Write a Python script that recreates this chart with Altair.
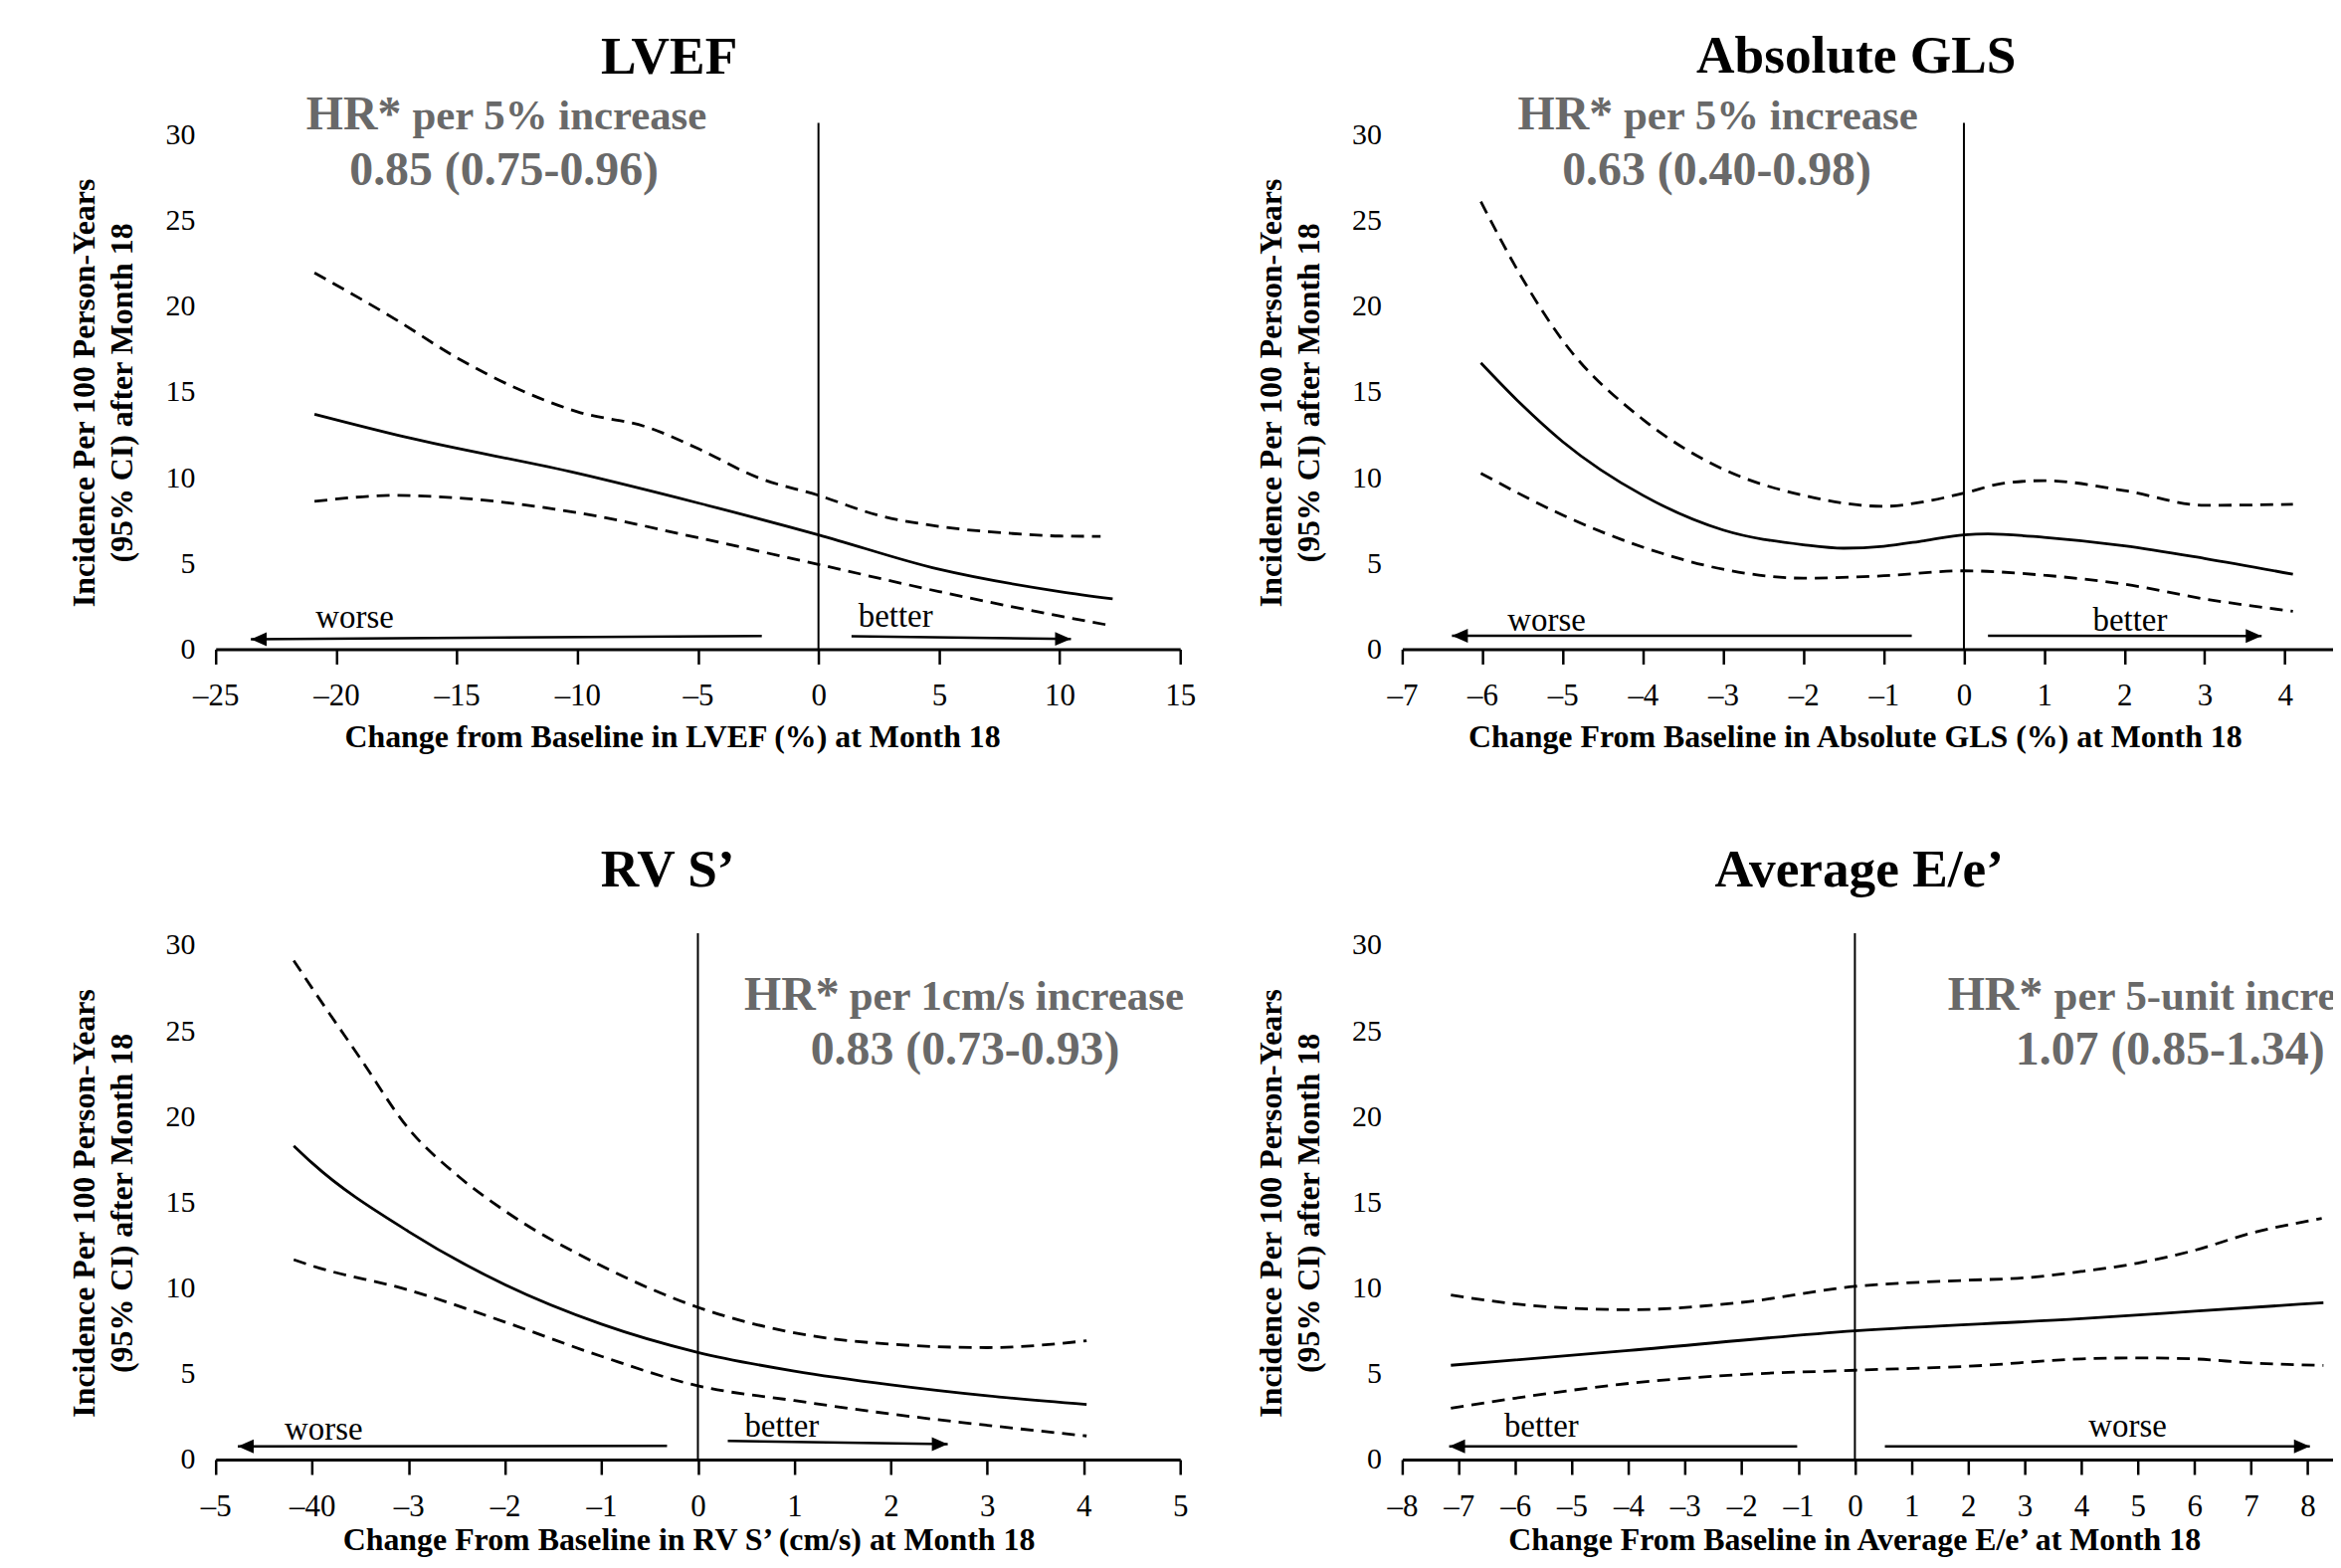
import altair as alt
import pandas as pd

FONT = "Liberation Serif"
GRAY = "#696969"
YMAX = 30.7
Y_TICKS = [0, 5, 10, 15, 20, 25, 30]
Y_TITLE = ["Incidence Per 100 Person-Years", "(95% CI) after Month 18"]

# ---------------- LVEF ----------------
lvef_est_x = [-20.9, -17.1, -10, -5, 0, 5, 10, 12.2]
lvef_est_y = [13.7, 12.36, 10.26, 8.53, 6.67, 4.66, 3.36, 2.93]
lvef_up_x = [-20.9, -17.5, -15, -12.5, -10, -7, -5, -2.5, 0, 2.5, 5, 8, 10, 11.7]
lvef_up_y = [21.95, 19.2, 17.0, 15.2, 13.85, 12.9, 11.7, 10.0, 8.97, 7.8, 7.16, 6.75, 6.6, 6.58]
lvef_lo_x = [-20.9, -17.5, -15, -10, -5, 0, 5, 10, 12.0]
lvef_lo_y = [8.62, 8.97, 8.82, 7.96, 6.5, 4.94, 3.36, 1.93, 1.41]
lvef_ticks = [-25, -20, -15, -10, -5, 0, 5, 10, 15]

# ---------------- Absolute GLS ----------------
gls_est_x = [-6.02, -5.52, -5, -4, -3, -2, -1.5, -1, -0.5, 0, 0.3, 1, 2, 3, 4.1]
gls_est_y = [16.7, 14.3, 12.1, 8.97, 6.95, 6.09, 5.89, 6.0, 6.32, 6.67, 6.72, 6.52, 6.03, 5.29, 4.37]
gls_up_x = [-6.02, -5.5, -5, -4, -3, -2, -1, -0.5, 0, 0.5, 1, 2, 3, 4.1]
gls_up_y = [26.1, 21.6, 18.0, 13.4, 10.5, 8.97, 8.33, 8.6, 9.1, 9.68, 9.83, 9.25, 8.39, 8.45]
gls_lo_x = [-6.02, -5, -4, -3, -2, -1, 0, 1, 2, 3, 4.1]
gls_lo_y = [10.26, 7.82, 5.95, 4.66, 4.14, 4.28, 4.57, 4.31, 3.79, 2.93, 2.21]
gls_ticks = [-7, -6, -5, -4, -3, -2, -1, 0, 1, 2, 3, 4]

# ---------------- RV S' ----------------
rvs_est_x = [-4.19, -4, -3, -2, -1, 0, 1, 2, 3, 4.03]
rvs_est_y = [18.3, 17.3, 13.3, 10.2, 7.9, 6.25, 5.16, 4.36, 3.72, 3.21]
rvs_up_x = [-4.19, -4, -3.5, -3, -2.5, -2, -1, 0, 1, 2, 3, 4.03]
rvs_up_y = [29.1, 27.5, 23.4, 19.3, 16.6, 14.5, 11.3, 8.88, 7.39, 6.73, 6.53, 6.93]
rvs_lo_x = [-4.19, -4, -3, -2, -1, 0, 1, 2, 3, 4.03]
rvs_lo_y = [11.66, 11.3, 9.89, 8.02, 6.02, 4.3, 3.44, 2.66, 2.0, 1.38]
rvs_ticks = [-5, -4, -3, -2, -1, 0, 1, 2, 3, 4, 5]

# ---------------- Average E/e' ----------------
ee_est_x = [-7.14, -4, 0, 4, 6, 8.28]
ee_est_y = [5.5, 6.36, 7.51, 8.22, 8.65, 9.15]
ee_up_x = [-7.14, -6, -4, -2, 0, 2, 3, 4, 5, 6, 7, 8.25]
ee_up_y = [9.6, 9.08, 8.74, 9.17, 10.1, 10.46, 10.6, 10.97, 11.46, 12.2, 13.2, 14.06]
ee_lo_x = [-7.14, -6, -4, -2, 0, 2, 4, 5, 6, 7, 8.28]
ee_lo_y = [3.0, 3.58, 4.44, 4.96, 5.21, 5.44, 5.87, 5.93, 5.87, 5.64, 5.49]
ee_ticks = [-8, -7, -6, -5, -4, -3, -2, -1, 0, 1, 2, 3, 4, 5, 6, 7, 8]

# arrows: start x, start y, tip x, tip y, direction
lvef_arrows = [(-2.35, 0.77, -23.54, 0.58, "L"), (1.37, 0.75, 10.47, 0.6, "R")]
gls_arrows = [(-0.65, 0.78, -6.38, 0.78, "L"), (0.3, 0.78, 3.71, 0.77, "R")]
rvs_arrows = [(-0.32, 0.8, -4.77, 0.77, "L"), (0.31, 1.09, 2.59, 0.9, "R")]
ee_arrows = [(-1.02, 0.77, -7.17, 0.77, "L"), (0.53, 0.77, 8.04, 0.77, "R")]

# arrow words: text, x, y
lvef_words = [("worse", -19.23, 1.23), ("better", 3.2, 1.31)]
gls_words = [("worse", -5.2, 1.1), ("better", 2.07, 1.1)]
rvs_words = [("worse", -3.88, 1.19), ("better", 0.87, 1.33)]
ee_words = [("better", -5.54, 1.35), ("worse", 4.82, 1.35)]

# HR annotation: (HR* x, "per" x, line-1 y, per-text, line-2 center x, line-2 y, line-2 text)
lvef_hr = (-21.24, -16.84, 30.3, "per 5% increase", -13.04, 27.05, "0.85 (0.75-0.96)")
gls_hr = (-5.56, -4.24, 30.3, "per 5% increase", -3.08, 27.05, "0.63 (0.40-0.98)")
rvs_hr = (0.48, 1.57, 26.23, "per 1cm/s increase", 2.77, 23.05, "0.83 (0.73-0.93)")
ee_hr = (1.64, 3.52, 26.23, "per 5-unit increase", 5.57, 23.05, "1.07 (0.85-1.34)")

DASH_EXPR = "datum.value < 0 ? '\u2013' + abs(datum.value) : '' + datum.value"
RVS_EXPR = "datum.value == -4 ? '\u201340' : (" + DASH_EXPR + ")"

L_PATH = "M 0 0 L 2 -0.875 L 2 0.875 Z"
R_PATH = "M 0 0 L -2 -0.875 L -2 0.875 Z"


def panel(title, tdx, toff, xdom, width, xticks, xtitle, xtitle_x, xtitle_pad, label_expr,
          est_x, est_y, up_x, up_y, lo_x, lo_y, arrows, words, hr, clip_hr=False):
    xscale = alt.Scale(domain=xdom, nice=False, zero=False)
    yscale = alt.Scale(domain=[0, YMAX], nice=False, zero=False)
    xaxis = alt.Axis(values=xticks, title=xtitle, titleX=xtitle_x, labelExpr=label_expr,
                     grid=False, domainColor="black", domainWidth=3, tickColor="black",
                     tickWidth=2.5, tickSize=15, labelFont=FONT, labelFontSize=31,
                     labelColor="black", labelPadding=17.5, labelFlush=False,
                     labelOverlap=False, titleFont=FONT, titleFontSize=32,
                     titleFontWeight="bold", titleColor="black", titlePadding=xtitle_pad)
    yaxis = alt.Axis(values=Y_TICKS, title=Y_TITLE, domain=False, ticks=False, grid=False,
                     labelFont=FONT, labelFontSize=30, labelColor="black", labelPadding=21,
                     labelOverlap=False, titleFont=FONT, titleFontSize=32,
                     titleFontWeight="bold", titleColor="black", titleLineHeight=38,
                     titlePadding=26.5, titleY=272)
    X = alt.X("x:Q", scale=xscale, axis=xaxis)
    Y = alt.Y("y:Q", scale=yscale, axis=yaxis)

    est = pd.DataFrame({"x": est_x, "y": est_y})
    ci = pd.concat([pd.DataFrame({"x": up_x, "y": up_y, "s": "upper"}),
                    pd.DataFrame({"x": lo_x, "y": lo_y, "s": "lower"})])
    ref = pd.DataFrame({"x": [0], "y": [0], "y2": [YMAX]})
    arr_lines = pd.DataFrame(
        [{"x": a[0], "y": a[1], "a": i} for i, a in enumerate(arrows)] +
        [{"x": a[2], "y": a[3], "a": i} for i, a in enumerate(arrows)])
    heads = pd.DataFrame([{"x": a[2], "y": a[3], "d": a[4]} for a in arrows])
    wd = pd.DataFrame([{"t": w[0], "x": w[1], "y": w[2]} for w in words])
    hr1 = pd.DataFrame([{"t": "HR*", "x": hr[0], "y": hr[2], "fs": 48},
                        {"t": hr[3], "x": hr[1], "y": hr[2], "fs": 43}])
    hr2 = pd.DataFrame([{"t": hr[6], "x": hr[4], "y": hr[5]}])

    l_est = alt.Chart(est).mark_line(color="black", strokeWidth=2.8,
                                     interpolate="monotone").encode(x=X, y=Y)
    l_ci = alt.Chart(ci).mark_line(color="black", strokeWidth=2.8, strokeDash=[13, 8],
                                   interpolate="monotone").encode(x="x:Q", y="y:Q", detail="s:N")
    l_ref = alt.Chart(ref).mark_rule(color="black", strokeWidth=2).encode(
        x="x:Q", y="y:Q", y2="y2:Q")
    l_arr = alt.Chart(arr_lines).mark_line(color="black", strokeWidth=2.5).encode(
        x="x:Q", y="y:Q", detail="a:N")
    l_head = alt.Chart(heads).mark_point(filled=True, size=256, color="black", opacity=1,
                                         strokeWidth=0).encode(
        x="x:Q", y="y:Q",
        shape=alt.Shape("d:N", scale=alt.Scale(domain=["L", "R"], range=[L_PATH, R_PATH]),
                        legend=None))
    l_words = alt.Chart(wd).mark_text(font=FONT, fontSize=33, color="black", align="center",
                                      baseline="alphabetic").encode(x="x:Q", y="y:Q", text="t:N")
    hr_kw = dict(font=FONT, fontWeight="bold", color=GRAY, baseline="alphabetic")
    if clip_hr:
        hr_kw["clip"] = True
    l_hr1 = alt.Chart(hr1).mark_text(align="left", **hr_kw).encode(
        x="x:Q", y="y:Q", text="t:N", size=alt.Size("fs:Q", scale=None, legend=None))
    l_hr2 = alt.Chart(hr2).mark_text(align="center", fontSize=48, **hr_kw).encode(
        x="x:Q", y="y:Q", text="t:N")

    return alt.layer(l_est, l_ci, l_ref, l_arr, l_head, l_words, l_hr1, l_hr2).properties(
        width=width, height=531,
        title=alt.TitleParams(text=title, font=FONT, fontSize=53.5, fontWeight="bold",
                              color="black", anchor="middle", frame="group", dx=tdx,
                              offset=toff, baseline="alphabetic"))


p1 = panel("LVEF", -29, -34.5, [-25, 15], 973, lvef_ticks,
           "Change from Baseline in LVEF (%) at Month 18", 460.5, 11, DASH_EXPR,
           lvef_est_x, lvef_est_y, lvef_up_x, lvef_up_y, lvef_lo_x, lvef_lo_y,
           lvef_arrows, lvef_words, lvef_hr)
p2 = panel("Absolute GLS", -11.5, -34, [-7, 4.6], 939, gls_ticks,
           "Change From Baseline in Absolute GLS (%) at Month 18", 456.6, 11, DASH_EXPR,
           gls_est_x, gls_est_y, gls_up_x, gls_up_y, gls_lo_x, gls_lo_y,
           gls_arrows, gls_words, gls_hr)
p3 = panel("RV S\u2019", -30.5, -9.3, [-5, 5], 973, rvs_ticks,
           "Change From Baseline in RV S\u2019 (cm/s) at Month 18", 477, 3, RVS_EXPR,
           rvs_est_x, rvs_est_y, rvs_up_x, rvs_up_y, rvs_lo_x, rvs_lo_y,
           rvs_arrows, rvs_words, rvs_hr)
p4 = panel("Average E/e\u2019", -8.5, -9.3, [-8, 8.45], 939, ee_ticks,
           "Change From Baseline in Average E/e\u2019 at Month 18", 456, 3, DASH_EXPR,
           ee_est_x, ee_est_y, ee_up_x, ee_up_y, ee_lo_x, ee_lo_y,
           ee_arrows, ee_words, ee_hr, clip_hr=True)

chart = alt.concat(p1, p2, p3, p4, columns=2, spacing={"row": 286.5, "column": 224},
                   bounds="flush").properties(
    padding={"left": 60.5, "top": 19, "right": 0, "bottom": 0},
    background="white",
).configure_view(stroke=None)

chart.save("out.html", embed_options={"renderer": "svg", "actions": False})
